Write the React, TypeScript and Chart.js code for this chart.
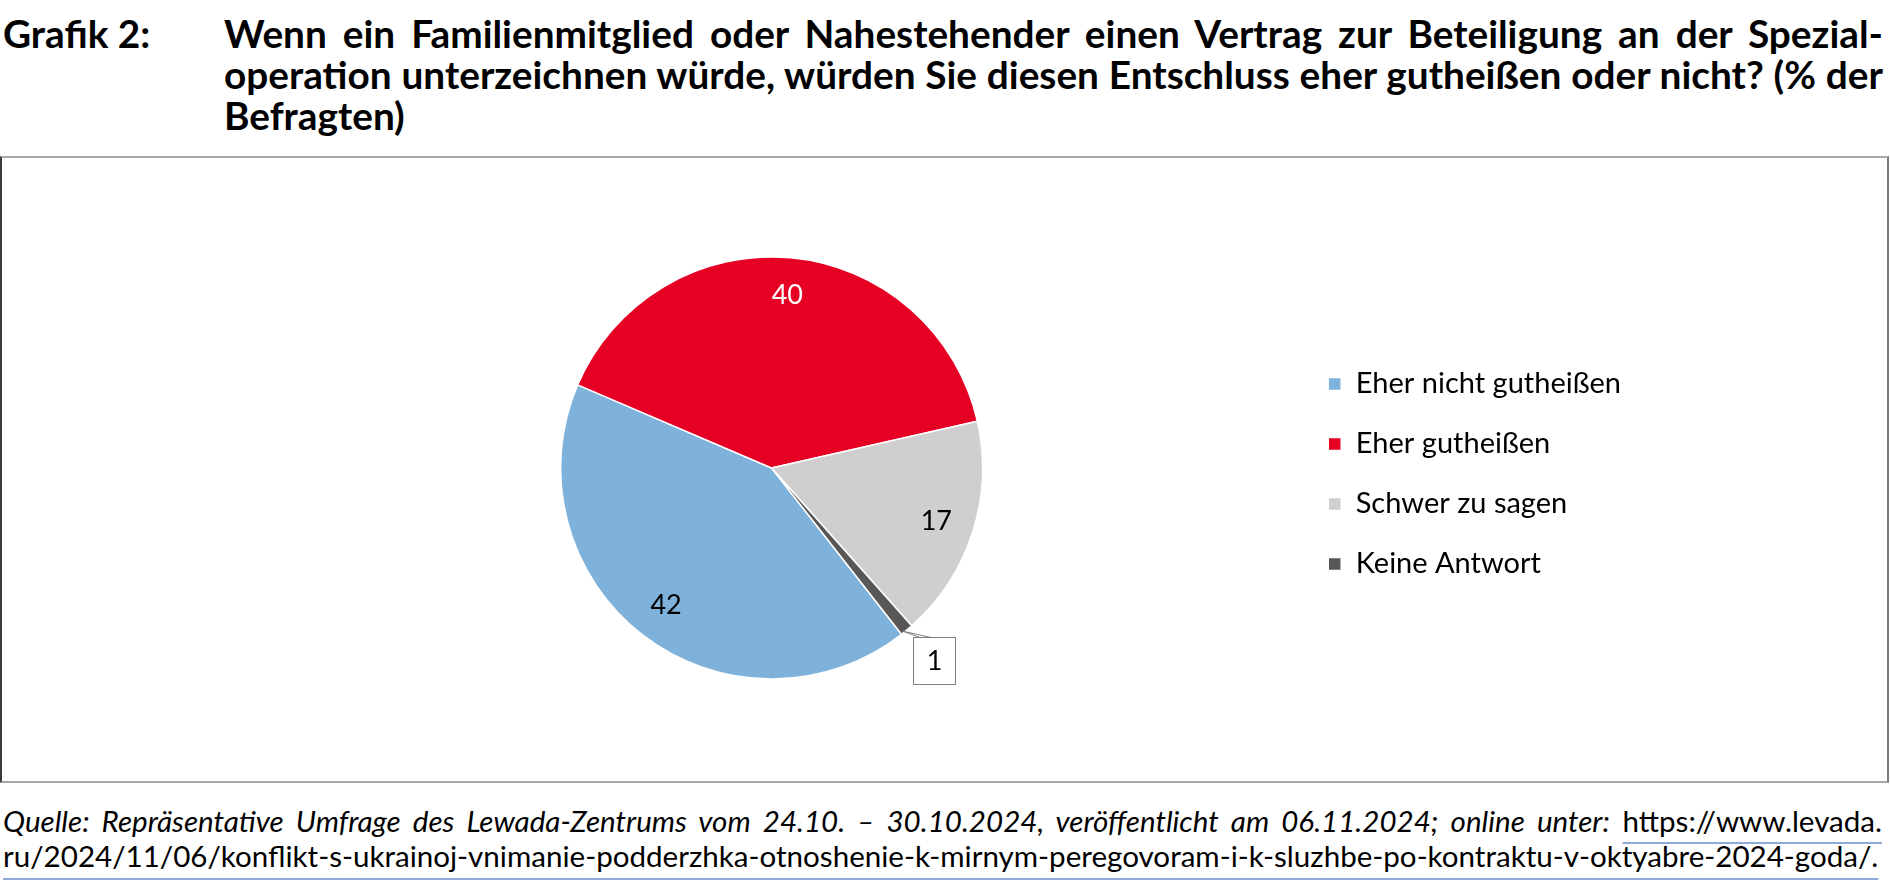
import React, { useEffect, useLayoutEffect, useRef, useState } from "react";
import { Chart, registerables } from "chart.js";

Chart.register(...registerables);

// ---- data ----
const categories = ["Eher nicht gutheißen", "Eher gutheißen", "Schwer zu sagen", "Keine Antwort"];
const values = [42, 40, 17, 1];
const sliceColors = ["#7fb2da", "#e60023", "#d0cece", "#595656"];
const valueLabelColors = ["#000000", "#ffffff", "#000000", "#000000"];

const titleLabel = "Grafik 2:";
const titleLines = [
  "Wenn ein Familienmitglied oder Nahestehender einen Vertrag zur Beteiligung an der Spezial-",
  "operation unterzeichnen würde, würden Sie diesen Entschluss eher gutheißen oder nicht? (% der",
  "Befragten)",
];
const sourceItalic = "Quelle: Repräsentative Umfrage des Lewada-Zentrums vom 24.10. – 30.10.2024, veröffentlicht am 06.11.2024; online unter:";
const linkPart1 = "https://www.levada.";
const linkPart2 = "ru/2024/11/06/konflikt-s-ukrainoj-vnimanie-podderzhka-otnoshenie-k-mirnym-peregovoram-i-k-sluzhbe-po-kontraktu-v-oktyabre-2024-goda/.";

const sliceLabelPlugin = {
  id: "sliceLabels",
  afterDatasetsDraw(chart: any) {
    const ctx = chart.ctx as CanvasRenderingContext2D;
    const meta = chart.getDatasetMeta(0);
    const data = chart.data.datasets[0].data as number[];
    ctx.save();
    ctx.font = "27px Lato";
    ctx.textAlign = "center";
    ctx.textBaseline = "middle";
    meta.data.forEach((arc: any, i: number) => {
      const { x, y, startAngle, endAngle, outerRadius } = arc.getProps(
        ["x", "y", "startAngle", "endAngle", "outerRadius"],
        true
      );
      const mid = (startAngle + endAngle) / 2;
      if (data[i] < 5) {
        const tx = x + Math.cos(mid) * outerRadius;
        const ty = y + Math.sin(mid) * outerRadius;
        const bx = Math.round(tx + 6);
        const by = Math.round(ty + 7);
        const bw = 42;
        const bh = 47;
        ctx.lineWidth = 1;
        ctx.strokeStyle = "#7f7f7f";
        ctx.fillStyle = "#ffffff";
        ctx.beginPath();
        ctx.moveTo(tx - 4, ty + 1);
        ctx.lineTo(bx + 7, by + 0.5);
        ctx.lineTo(bx + 18, by + 0.5);
        ctx.closePath();
        ctx.fill();
        ctx.stroke();
        ctx.fillRect(bx, by, bw, bh);
        ctx.strokeRect(bx + 0.5, by + 0.5, bw, bh);
        ctx.fillStyle = "#000000";
        ctx.fillText(String(data[i]), bx + bw / 2 + 0.5, by + bh / 2 + 1);
      } else {
        const r = outerRadius * 0.82;
        ctx.fillStyle = valueLabelColors[i];
        ctx.fillText(String(data[i]), x + Math.cos(mid) * r, y + Math.sin(mid) * r);
      }
    });
    ctx.restore();
  },
};

function PieChart() {
  const ref = useRef<HTMLCanvasElement | null>(null);
  useEffect(() => {
    if (!ref.current) return;
    const chart = new Chart(ref.current, {
      type: "pie",
      data: {
        labels: categories,
        datasets: [
          {
            data: values,
            backgroundColor: sliceColors,
            borderColor: "#ffffff",
            borderWidth: 1.5,
          },
        ],
      },
      options: {
        animation: false,
        responsive: false,
        devicePixelRatio: 1,
        rotation: 142,
        radius: 211,
        layout: { padding: { left: 246, right: 259, top: 0, bottom: 0 } },
        plugins: {
          tooltip: { enabled: false },
          legend: {
            position: "right",
            align: "center",
            title: { display: true, text: "", font: { size: 10, lineHeight: 1 }, padding: 1 },
            labels: {
              font: { family: "Lato", size: 29 },
              color: "#000000",
              boxWidth: 13,
              boxHeight: 13,
              padding: 31,
            },
          },
        },
      } as any,
      plugins: [sliceLabelPlugin],
    });
    return () => chart.destroy();
  }, []);
  return (
    <canvas
      ref={ref}
      width={1890}
      height={626}
      style={{ position: "absolute", left: 0, top: 155, width: 1890, height: 626 }}
    />
  );
}

export default function App() {
  const [titleSize, setTitleSize] = useState(34);
  const [footSize, setFootSize] = useState(25);
  useLayoutEffect(() => {
    const m = document.createElement("span");
    m.style.position = "absolute";
    m.style.visibility = "hidden";
    m.style.whiteSpace = "nowrap";
    m.style.fontFamily = "Lato";
    m.style.fontWeight = "bold";
    m.style.fontSize = "100px";
    m.textContent = titleLines[1];
    document.body.appendChild(m);
    const wT = m.getBoundingClientRect().width;
    m.style.fontWeight = "normal";
    m.textContent = linkPart2;
    const wF = m.getBoundingClientRect().width;
    document.body.removeChild(m);
    setTitleSize((100 * 1655) / wT);
    setFootSize((100 * 1876) / wF);
  }, []);

  const titleStyle = {
    fontFamily: "Lato",
    fontWeight: "bold",
    fontSize: titleSize,
    lineHeight: "41px",
  } as any;
  const underline = {
    textDecoration: "underline",
    textDecorationColor: "#8eaadb",
    textDecorationThickness: "1.5px",
  } as any;
  return (
    <div
      style={{
        position: "absolute",
        left: 0,
        top: 0,
        width: 1890,
        height: 882,
        background: "#ffffff",
        overflow: "hidden",
        color: "#000000",
        fontFamily: "Lato",
      }}
    >
      <div style={{ ...titleStyle, position: "absolute", left: 3, top: 13, whiteSpace: "nowrap" }}>{titleLabel}</div>
      <div style={{ ...titleStyle, position: "absolute", left: 224, top: 13, width: 1659 }}>
        {titleLines.map((l, i) => (
          <div
            key={i}
            style={{
              lineHeight: "41px",
              textAlign: i < titleLines.length - 1 ? "justify" : "left",
              textAlignLast: i < titleLines.length - 1 ? "justify" : "left",
            } as any}
          >
            {l}
          </div>
        ))}
      </div>

      <PieChart />
      <div
        style={{
          position: "absolute",
          left: 0,
          top: 156,
          width: 1889,
          height: 627,
          boxSizing: "border-box",
          borderTop: "2px solid #a6a6a6",
          borderBottom: "2px solid #a6a6a6",
          borderLeft: "2px solid #3a3a3a",
          borderRight: "2px solid #7a7a7a",
          pointerEvents: "none",
        }}
      />

      <div
        style={{
          position: "absolute",
          left: 3,
          top: 803,
          width: 1879,
          fontFamily: "Lato",
          fontSize: footSize,
          lineHeight: "35px",
        }}
      >
        <div style={{ lineHeight: "35px", textAlign: "justify", textAlignLast: "justify" } as any}>
          <i>{sourceItalic}</i>{" "}
          <span style={{ ...underline, textUnderlineOffset: "10px" }}>{linkPart1}</span>
        </div>
        <div style={{ lineHeight: "35px", whiteSpace: "nowrap" }}>
          <span style={{ ...underline, textUnderlineOffset: "11px" }}>{linkPart2}</span>
        </div>
      </div>
    </div>
  );
}
